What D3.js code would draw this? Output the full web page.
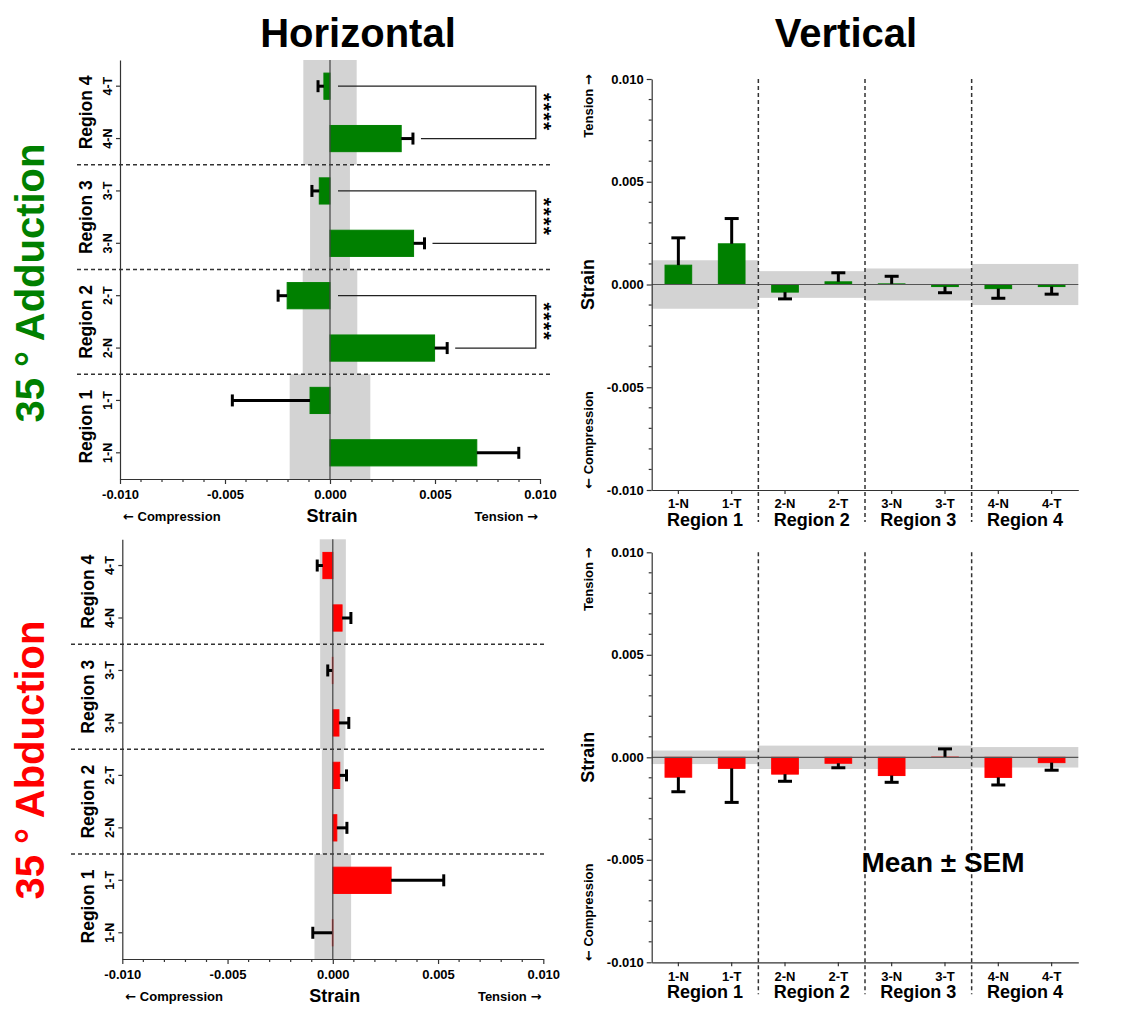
<!DOCTYPE html>
<html>
<head>
<meta charset="utf-8">
<script src="https://cdn.jsdelivr.net/npm/d3@7"></script>
<style>
  body { margin: 0; background: #fff; }
  svg { display: block; }
</style>
</head>
<body>
<svg id="chart" width="1143" height="1034"></svg>
<script>
// ---- data -------------------------------------------------------------
const categories = ["1-N", "1-T", "2-N", "2-T", "3-N", "3-T", "4-N", "4-T"];
const regions = ["Region 1", "Region 2", "Region 3", "Region 4"];
const strainTicks = [-0.010, -0.005, 0.000, 0.005, 0.010];

// Horizontal strain, 35° adduction (mean, SEM)
const horizAdductionMean = [0.00699, -0.00095, 0.00498, -0.00204, 0.00398, -0.00051, 0.00339, -0.00029];
const horizAdductionSem  = [0.00200, 0.00370, 0.00060, 0.00043, 0.00052, 0.00035, 0.00056, 0.00028];
// half-width of the grey reference band per region
const horizAdductionBand = [0.00192, 0.00130, 0.00095, 0.00127];

// Horizontal strain, 35° abduction
const horizAbductionMean = [-0.00002, 0.00277, 0.00019, 0.00033, 0.00029, -0.00002, 0.00044, -0.00047];
const horizAbductionSem  = [0.00093, 0.00250, 0.00048, 0.00032, 0.00047, 0.00022, 0.00042, 0.00027];
const horizAbductionBand = [0.00087, 0.00052, 0.00060, 0.00062];

// Vertical strain, 35° adduction
const vertAdductionMean = [0.00094, 0.00198, -0.00037, 0.00013, 0.00003, -0.00010, -0.00020, -0.00010];
const vertAdductionSem  = [0.00133, 0.00123, 0.00033, 0.00044, 0.00037, 0.00030, 0.00047, 0.00037];
const vertAdductionBand = [0.00118, 0.00065, 0.00078, 0.00100];

// Vertical strain, 35° abduction
const vertAbductionMean = [-0.00097, -0.00054, -0.00082, -0.00029, -0.00089, 0.00001, -0.00098, -0.00026];
const vertAbductionSem  = [0.00071, 0.00166, 0.00035, 0.00022, 0.00033, 0.00040, 0.00037, 0.00037];
const vertAbductionBand = [0.00033, 0.00057, 0.00057, 0.00050];

// N vs T comparisons marked as significant (adduction, horizontal)
const sigPairs = [["2-N", "2-T"], ["3-N", "3-T"], ["4-N", "4-T"]];
const sigLabels = ["****", "****", "****"];

// ---- styling ----------------------------------------------------------
const FONT = "'Liberation Sans', Arial, Helvetica, sans-serif";
const ARROW_FONT = "'DejaVu Sans', sans-serif";
const GREEN = "#008000", RED = "#ff0000", BAND = "#d3d3d3", AXIS = "#333";
const fmt = d => d3.format(".3f")(d).replace("\u2212", "-");
const minorTicks = d3.range(-10, 11).map(d => d / 1000).filter(d => Math.round(d * 1000) % 5 !== 0);

const svg = d3.select("#chart").style("font-family", FONT);
svg.append("rect").attr("width", 1143).attr("height", 1034).attr("fill", "#fff");

function rows(mean, sem) {
  return categories.map((c, i) => ({ cat: c, mean: mean[i], sem: sem[i], end: mean[i] + (mean[i] >= 0 ? 1 : -1) * sem[i] }));
}

// caption with an arrow glyph drawn in a font that has a full-size arrow
function arrowCaption(sel, parts) {
  parts.forEach(p => {
    sel.append("tspan").attr("font-family", p.arrow ? ARROW_FONT : FONT).text(p.t);
  });
  return sel;
}

// ---- horizontal-strain panel (bars run along x) ----------------------
function drawHorizontal(cfg) {
  const g = svg.append("g");
  const x = d3.scaleLinear().domain([-0.01, 0.01]).range([cfg.left, cfg.right]);
  const y = d3.scaleBand().domain(categories.slice().reverse())
    .range([cfg.top, cfg.bottom]).paddingInner(0.5).paddingOuter(0.25);
  const half = (y.step() - y.bandwidth()) / 2;
  const data = rows(cfg.mean, cfg.sem);

  // grey bands, one per region
  regions.forEach((r, ri) => {
    const nCat = categories[ri * 2], tCat = categories[ri * 2 + 1];
    const y0 = ri === 3 ? cfg.top : y(tCat) - half;
    const y1 = ri === 0 ? cfg.bottom : y(nCat) + y.bandwidth() + half;
    g.append("rect")
      .attr("x", x(-cfg.band[ri])).attr("width", x(cfg.band[ri]) - x(-cfg.band[ri]))
      .attr("y", y0).attr("height", y1 - y0).attr("fill", BAND);
  });

  // dashed region separators
  [0, 1, 2].forEach(ri => {
    const yy = y(categories[ri * 2 + 1]) - half;
    g.append("line").attr("x1", cfg.dashL).attr("x2", cfg.dashR).attr("y1", yy).attr("y2", yy)
      .attr("stroke", AXIS).attr("stroke-width", 1.5).attr("stroke-dasharray", "4,3");
  });

  // bars
  g.selectAll("rect.bar").data(data).join("rect").attr("class", "bar")
    .attr("x", d => x(Math.min(0, d.mean)))
    .attr("width", d => Math.abs(x(d.mean) - x(0)))
    .attr("y", d => y(d.cat)).attr("height", y.bandwidth())
    .attr("fill", cfg.color).attr("stroke", cfg.color).attr("stroke-width", 1);

  // error bars
  const cy = d => y(d.cat) + y.bandwidth() / 2;
  g.selectAll("line.err").data(data).join("line").attr("class", "err")
    .attr("x1", d => x(d.mean)).attr("x2", d => x(d.end))
    .attr("y1", cy).attr("y2", cy).attr("stroke", "#000").attr("stroke-width", 3);
  g.selectAll("line.cap").data(data).join("line").attr("class", "cap")
    .attr("x1", d => x(d.end)).attr("x2", d => x(d.end))
    .attr("y1", d => cy(d) - 6).attr("y2", d => cy(d) + 6)
    .attr("stroke", "#000").attr("stroke-width", 3);

  // zero line
  g.append("line").attr("x1", x(0)).attr("x2", x(0)).attr("y1", cfg.top).attr("y2", cfg.bottom)
    .attr("stroke", "#444").attr("stroke-width", 1.2);

  // significance brackets
  if (cfg.sig) {
    const bx = x(0.0098);
    sigPairs.forEach((p, k) => {
      const a = data.find(d => d.cat === p[0]), b = data.find(d => d.cat === p[1]);
      const sa = x(Math.max(0, a.end, a.mean)) + 8, sb = x(Math.max(0, b.end, b.mean)) + 8;
      const ya = cy(a), yb = cy(b);
      g.append("path")
        .attr("d", `M${sb},${yb}H${bx}V${ya}H${sa}`)
        .attr("fill", "none").attr("stroke", "#222").attr("stroke-width", 1.3);
      const ym = (ya + yb) / 2;
      g.append("text").attr("transform", `translate(${bx + 1},${ym}) rotate(90)`)
        .attr("text-anchor", "middle").attr("font-size", 21).attr("font-weight", "bold")
        .attr("letter-spacing", 1.5)
        .text(sigLabels[k]);
    });
  }

  // x axis
  const xa = g.append("g").attr("transform", `translate(0,${cfg.bottom})`)
    .call(d3.axisBottom(x).tickValues(strainTicks).tickFormat(fmt).tickSize(5).tickSizeOuter(0));
  xa.selectAll("line.minor").data(minorTicks).join("line").attr("class", "minor")
    .attr("x1", d => x(d)).attr("x2", d => x(d)).attr("y1", 0).attr("y2", 3)
    .attr("stroke", AXIS);
  xa.selectAll("path,line").attr("stroke", AXIS).attr("stroke-width", 1.2);
  xa.selectAll("text").attr("font-size", 13).attr("font-weight", "bold").attr("fill", "#000")
    .attr("font-family", FONT).attr("dy", "0.95em");

  // y axis
  const ya = g.append("g").attr("transform", `translate(${cfg.left},0)`)
    .call(d3.axisLeft(y).tickSize(4).tickSizeOuter(0).tickFormat(""));
  ya.selectAll("path,line").attr("stroke", AXIS).attr("stroke-width", 1.2);

  // category labels (rotated)
  g.selectAll("text.cat").data(data).join("text").attr("class", "cat")
    .attr("transform", d => `translate(${cfg.left - 8.5},${cy(d)}) rotate(-90)`)
    .attr("text-anchor", "middle").attr("font-size", 12.5).attr("font-weight", "bold")
    .text(d => d.cat);

  // region labels
  regions.forEach((r, ri) => {
    const ym = (cy(data[ri * 2]) + cy(data[ri * 2 + 1])) / 2;
    g.append("text").attr("transform", `translate(${cfg.left - 28},${ym}) rotate(-90)`)
      .attr("text-anchor", "middle").attr("font-size", 17.5).attr("font-weight", "bold").text(r);
  });

  // axis captions
  const cap = cfg.bottom + 42;
  arrowCaption(g.append("text").attr("x", cfg.left + 3).attr("y", cap).attr("font-size", 13)
    .attr("font-weight", "bold"), [{ t: "\u2190", arrow: true }, { t: " Compression" }]);
  arrowCaption(g.append("text").attr("x", cfg.right - 2).attr("y", cap).attr("text-anchor", "end")
    .attr("font-size", 13).attr("font-weight", "bold"), [{ t: "Tension " }, { t: "\u2192", arrow: true }]);
  g.append("text").attr("x", x(0) + 2).attr("y", cap + 1).attr("text-anchor", "middle")
    .attr("font-size", 18).attr("font-weight", "bold").text("Strain");
}

// ---- vertical-strain panel (bars run along y) ------------------------
function drawVertical(cfg) {
  const g = svg.append("g");
  const x = d3.scaleBand().domain(categories).range([cfg.left, cfg.right])
    .paddingInner(0.5).paddingOuter(0.25);
  const y = d3.scaleLinear().domain([-0.01, 0.01]).range([cfg.bottom, cfg.top]);
  const half = (x.step() - x.bandwidth()) / 2;
  const data = rows(cfg.mean, cfg.sem);

  regions.forEach((r, ri) => {
    const nCat = categories[ri * 2], tCat = categories[ri * 2 + 1];
    const x0 = ri === 0 ? cfg.left : x(nCat) - half;
    const x1 = ri === 3 ? cfg.right : x(tCat) + x.bandwidth() + half;
    g.append("rect").attr("x", x0).attr("width", x1 - x0)
      .attr("y", y(cfg.band[ri])).attr("height", y(-cfg.band[ri]) - y(cfg.band[ri]))
      .attr("fill", BAND);
  });

  g.selectAll("rect.bar").data(data).join("rect").attr("class", "bar")
    .attr("x", d => x(d.cat)).attr("width", x.bandwidth())
    .attr("y", d => y(Math.max(0, d.mean)))
    .attr("height", d => Math.abs(y(d.mean) - y(0)))
    .attr("fill", cfg.color).attr("stroke", cfg.color).attr("stroke-width", 1);

  const cx = d => x(d.cat) + x.bandwidth() / 2;
  g.selectAll("line.err").data(data).join("line").attr("class", "err")
    .attr("x1", cx).attr("x2", cx).attr("y1", d => y(d.mean)).attr("y2", d => y(d.end))
    .attr("stroke", "#000").attr("stroke-width", 3);
  g.selectAll("line.cap").data(data).join("line").attr("class", "cap")
    .attr("x1", d => cx(d) - 7).attr("x2", d => cx(d) + 7)
    .attr("y1", d => y(d.end)).attr("y2", d => y(d.end))
    .attr("stroke", "#000").attr("stroke-width", 3);

  g.append("line").attr("x1", cfg.left).attr("x2", cfg.right).attr("y1", y(0)).attr("y2", y(0))
    .attr("stroke", "#555").attr("stroke-width", 1.2);

  // dashed region separators
  [1, 2, 3].forEach(ri => {
    const xx = x(categories[ri * 2]) - half;
    g.append("line").attr("x1", xx).attr("x2", xx).attr("y1", cfg.top).attr("y2", cfg.bottom + 32)
      .attr("stroke", AXIS).attr("stroke-width", 1.5).attr("stroke-dasharray", "4,3");
  });

  // y axis
  const ya = g.append("g").attr("transform", `translate(${cfg.left},0)`)
    .call(d3.axisLeft(y).tickValues(strainTicks).tickFormat(fmt).tickSize(5).tickSizeOuter(0));
  ya.selectAll("line.minor").data(minorTicks).join("line").attr("class", "minor")
    .attr("x1", 0).attr("x2", -3).attr("y1", d => y(d)).attr("y2", d => y(d)).attr("stroke", AXIS);
  ya.selectAll("path,line").attr("stroke", AXIS).attr("stroke-width", 1.2);
  ya.selectAll("text").attr("font-size", 13).attr("font-weight", "bold").attr("fill", "#000")
    .attr("font-family", FONT);

  // x axis
  const xa = g.append("g").attr("transform", `translate(0,${cfg.bottom})`)
    .call(d3.axisBottom(x).tickSize(4).tickSizeOuter(0));
  xa.selectAll("path,line").attr("stroke", AXIS).attr("stroke-width", 1.2);
  xa.selectAll("text").attr("font-size", 13).attr("font-weight", "bold").attr("fill", "#000")
    .attr("font-family", FONT).attr("y", 6).attr("dy", "0.95em");

  regions.forEach((r, ri) => {
    const xm = (cx(data[ri * 2]) + cx(data[ri * 2 + 1])) / 2;
    g.append("text").attr("x", xm).attr("y", cfg.bottom + 36).attr("text-anchor", "middle")
      .attr("font-size", 18).attr("font-weight", "bold").text(r);
  });

  // axis captions
  const ax = cfg.left - 64;
  g.append("text").attr("transform", `translate(${ax + 6},${y(0)}) rotate(-90)`)
    .attr("text-anchor", "middle").attr("font-size", 18).attr("font-weight", "bold").text("Strain");
  arrowCaption(g.append("text").attr("transform", `translate(${ax + 5},${cfg.top + 27}) rotate(-90)`)
    .attr("text-anchor", "middle").attr("font-size", 13).attr("font-weight", "bold"),
    [{ t: "Tension " }, { t: "\u2192", arrow: true }]);
  arrowCaption(g.append("text").attr("transform", `translate(${ax + 5},${cfg.bottom - 50}) rotate(-90)`)
    .attr("text-anchor", "middle").attr("font-size", 13).attr("font-weight", "bold"),
    [{ t: "\u2190", arrow: true }, { t: " Compression" }]);
}

drawHorizontal({ top: 60, bottom: 479, left: 120, right: 540, dashL: 77, dashR: 553,
  mean: horizAdductionMean, sem: horizAdductionSem, band: horizAdductionBand, color: GREEN, sig: true });
drawHorizontal({ top: 539.3, bottom: 959, left: 122.3, right: 543.3, dashL: 71, dashR: 547,
  mean: horizAbductionMean, sem: horizAbductionSem, band: horizAbductionBand, color: RED, sig: false });
drawVertical({ top: 79, bottom: 490, left: 651.7, right: 1078.3,
  mean: vertAdductionMean, sem: vertAdductionSem, band: vertAdductionBand, color: GREEN });
drawVertical({ top: 552.3, bottom: 962.3, left: 651.7, right: 1078.3,
  mean: vertAbductionMean, sem: vertAbductionSem, band: vertAbductionBand, color: RED });

// column and row headings
svg.append("text").attr("x", 358).attr("y", 47).attr("text-anchor", "middle")
  .attr("font-size", 40).attr("font-weight", "bold").text("Horizontal");
svg.append("text").attr("x", 846).attr("y", 47).attr("text-anchor", "middle")
  .attr("font-size", 40).attr("font-weight", "bold").text("Vertical");
svg.append("text").attr("transform", "translate(44,283) rotate(-90)").attr("text-anchor", "middle")
  .attr("font-size", 40).attr("font-weight", "bold").attr("fill", GREEN).text("35 \u00b0 Adduction");
svg.append("text").attr("transform", "translate(44,760) rotate(-90)").attr("text-anchor", "middle")
  .attr("font-size", 40).attr("font-weight", "bold").attr("fill", RED).text("35 \u00b0 Abduction");

svg.append("text").attr("x", 943).attr("y", 872).attr("text-anchor", "middle")
  .attr("font-size", 28).attr("font-weight", "bold").text("Mean \u00b1 SEM");
</script>
</body>
</html>
